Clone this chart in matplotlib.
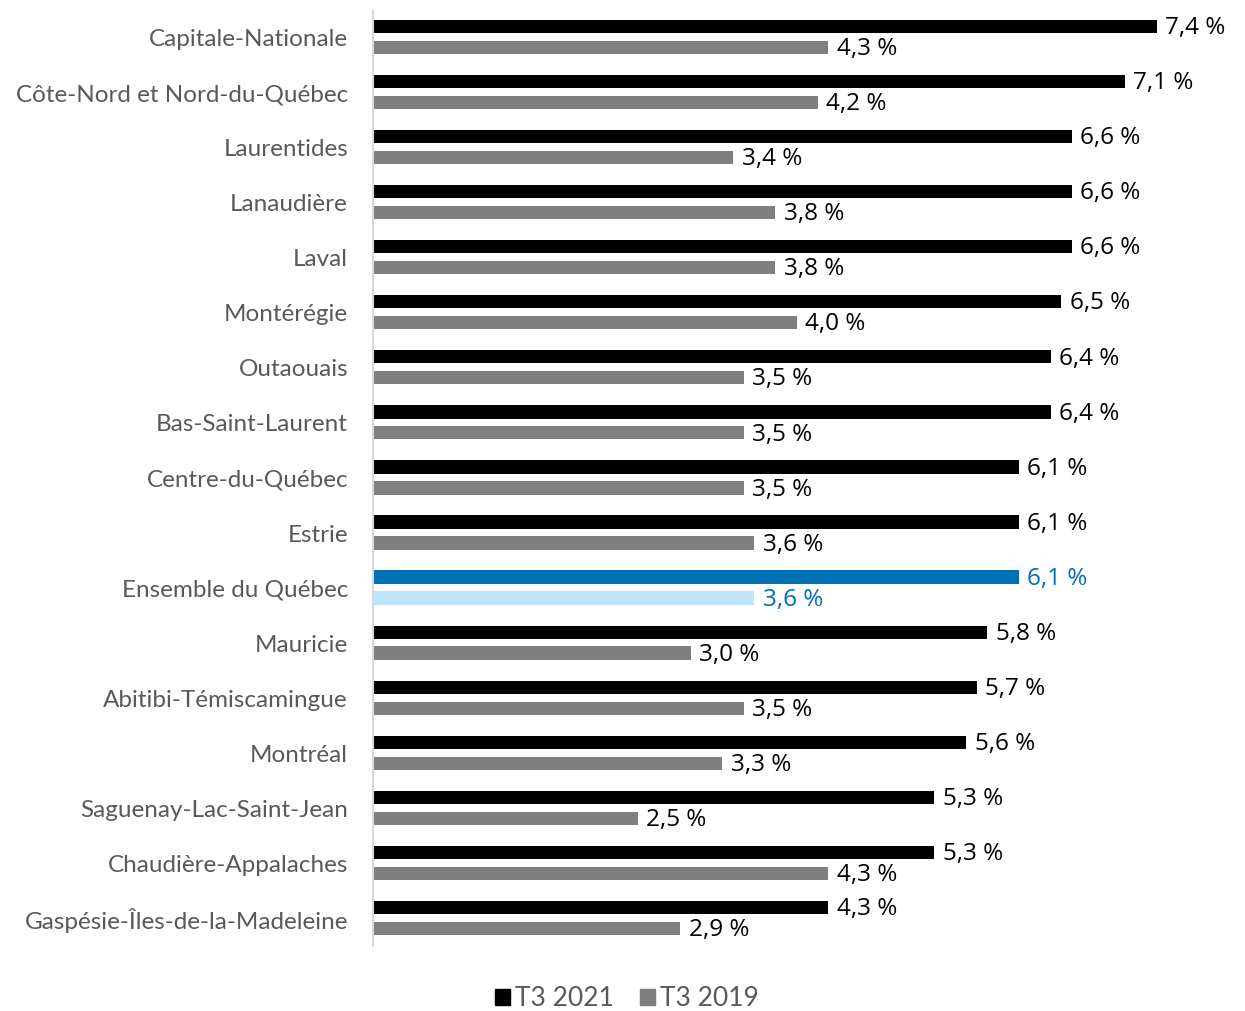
import matplotlib.pyplot as plt
from matplotlib.patches import Patch

regions = ["Capitale-Nationale", "Côte-Nord et Nord-du-Québec", "Laurentides",
           "Lanaudière", "Laval", "Montérégie", "Outaouais", "Bas-Saint-Laurent",
           "Centre-du-Québec", "Estrie", "Ensemble du Québec", "Mauricie",
           "Abitibi-Témiscamingue", "Montréal", "Saguenay-Lac-Saint-Jean",
           "Chaudière-Appalaches", "Gaspésie-Îles-de-la-Madeleine"]
t3_2021 = [7.4, 7.1, 6.6, 6.6, 6.6, 6.5, 6.4, 6.4, 6.1, 6.1, 6.1, 5.8, 5.7, 5.6, 5.3, 5.3, 4.3]
t3_2019 = [4.3, 4.2, 3.4, 3.8, 3.8, 4.0, 3.5, 3.5, 3.5, 3.6, 3.6, 3.0, 3.5, 3.3, 2.5, 4.3, 2.9]
highlight = "Ensemble du Québec"

W, H = 1245, 1011
fig = plt.figure(figsize=(W / 100, H / 100), dpi=100)
plt.rcParams['font.family'] = ['Lato', 'DejaVu Sans']
ax = fig.add_axes([373 / W, 1 - 946 / H, (W - 373) / W, (946 - 10) / H])

txtgray = "#595959"
valfont = ['Open Sans', 'DejaVu Sans']
for i, r in enumerate(regions):
    if r == highlight:
        c1, c2, lc = "#0070B4", "#BDE5FB", "#0070B4"
    else:
        c1, c2, lc = "#000000", "#7F7F7F", "#000000"
    y1 = i - 0.2
    y2 = i + 0.18
    ax.barh(y1, t3_2021[i], height=0.24, color=c1)
    ax.barh(y2, t3_2019[i], height=0.24, color=c2)
    ax.text(t3_2021[i] + 0.08, y1 + 0.03, f"{t3_2021[i]:.1f} %".replace(".", ","),
            va="center", ha="left", fontsize=17.5, color=lc, family=valfont)
    ax.text(t3_2019[i] + 0.08, y2 + 0.03, f"{t3_2019[i]:.1f} %".replace(".", ","),
            va="center", ha="left", fontsize=17.5, color=lc, family=valfont)

ax.set_xlim(0, (W - 373) / 105.9)
ax.set_ylim(len(regions) - 0.5, -0.5)
ax.set_yticks(range(len(regions)))
ax.set_yticklabels(regions, fontsize=17.5, color=txtgray)
ax.tick_params(axis="y", length=0, pad=18)
ax.set_xticks([])
for s in ["top", "right", "bottom"]:
    ax.spines[s].set_visible(False)
ax.spines["left"].set_color("#D9D9D9")
ax.spines["left"].set_linewidth(1.5)

handles = [Patch(color="#000000", label="T3 2021"), Patch(color="#7F7F7F", label="T3 2019")]
leg = fig.legend(handles=handles, loc="center", bbox_to_anchor=(627 / W, 1 - 999 / H),
                 ncol=2, frameon=False, fontsize=19, handlelength=0.55, handleheight=0.55,
                 handletextpad=0.2, columnspacing=1.0)
for t in leg.get_texts():
    t.set_color(txtgray)

fig.savefig("out.png", dpi=100)
